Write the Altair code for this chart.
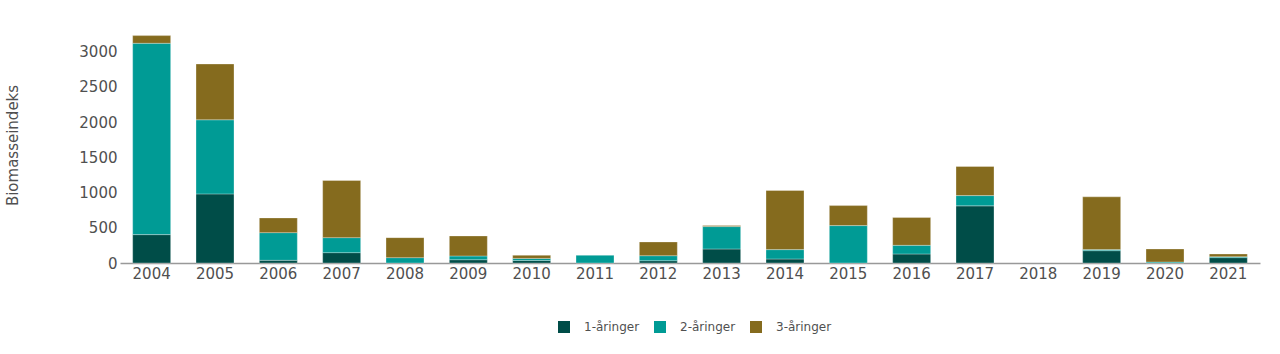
import altair as alt
import pandas as pd

years = [str(y) for y in range(2004, 2022)]
age1 = [403, 981, 38, 147, 0, 47, 35, 0, 33, 199, 57, 0, 128, 811, 0, 175, 0, 76]
age2 = [2716, 1052, 393, 213, 76, 53, 30, 109, 71, 318, 133, 531, 123, 146, 0, 15, 14, 14]
age3 = [109, 792, 209, 811, 284, 284, 44, 0, 195, 14, 839, 284, 394, 413, 0, 749, 185, 38]
series = ["1-åringer", "2-åringer", "3-åringer"]
colors = ["#004D48", "#009B95", "#856B1E"]

rows = []
for i, y in enumerate(years):
    for k, (name, vals) in enumerate(zip(series, [age1, age2, age3])):
        if vals[i] > 0:
            rows.append({"År": y, "Gruppe": name, "Verdi": vals[i], "ord": k})
df = pd.DataFrame(rows)

font = "DejaVu Sans"

chart = alt.Chart(df).mark_bar(stroke="#ffffff", strokeWidth=0.6, strokeOpacity=0.5).encode(
    x=alt.X("År:N", sort=years,
            scale=alt.Scale(domain=years, paddingInner=0.4, paddingOuter=0.2),
            axis=alt.Axis(title=None, labelAngle=0, ticks=False, labelPadding=3,
                          labelFontSize=15, labelColor="#505050", labelFont=font,
                          domainColor="#999999", domainWidth=1.5)),
    y=alt.Y("Verdi:Q", stack="zero",
            scale=alt.Scale(domain=[0, 3350], nice=False),
            axis=alt.Axis(title="Biomasseindeks", values=[0, 500, 1000, 1500, 2000, 2500, 3000],
                          format="d",
                          grid=False, domain=False, ticks=False, labelPadding=3,
                          labelFontSize=15, labelColor="#505050", labelFont=font,
                          titleFontSize=15, titleColor="#505050", titleFont=font,
                          titleFontWeight="normal", titlePadding=58)),
    color=alt.Color("Gruppe:N", scale=alt.Scale(domain=series, range=colors),
                    legend=alt.Legend(title=None, orient="none", direction="horizontal",
                                      legendX=438, legendY=294, symbolType="square",
                                      symbolSize=144, symbolStrokeWidth=0,
                                      labelFontSize=12, labelColor="#505050", labelFont=font,
                                      labelOffset=14, columnPadding=14, padding=0)),
    order=alt.Order("ord:Q", sort="ascending"),
).properties(
    width=1140, height=236,
    background="#ffffff",
    autosize=alt.AutoSizeParams(type="none"),
    padding={"left": 120, "top": 27, "right": 20, "bottom": 91},
).configure_view(strokeWidth=0, stroke="transparent")

chart.save("out.html", embed_options={"renderer": "svg", "actions": False})
